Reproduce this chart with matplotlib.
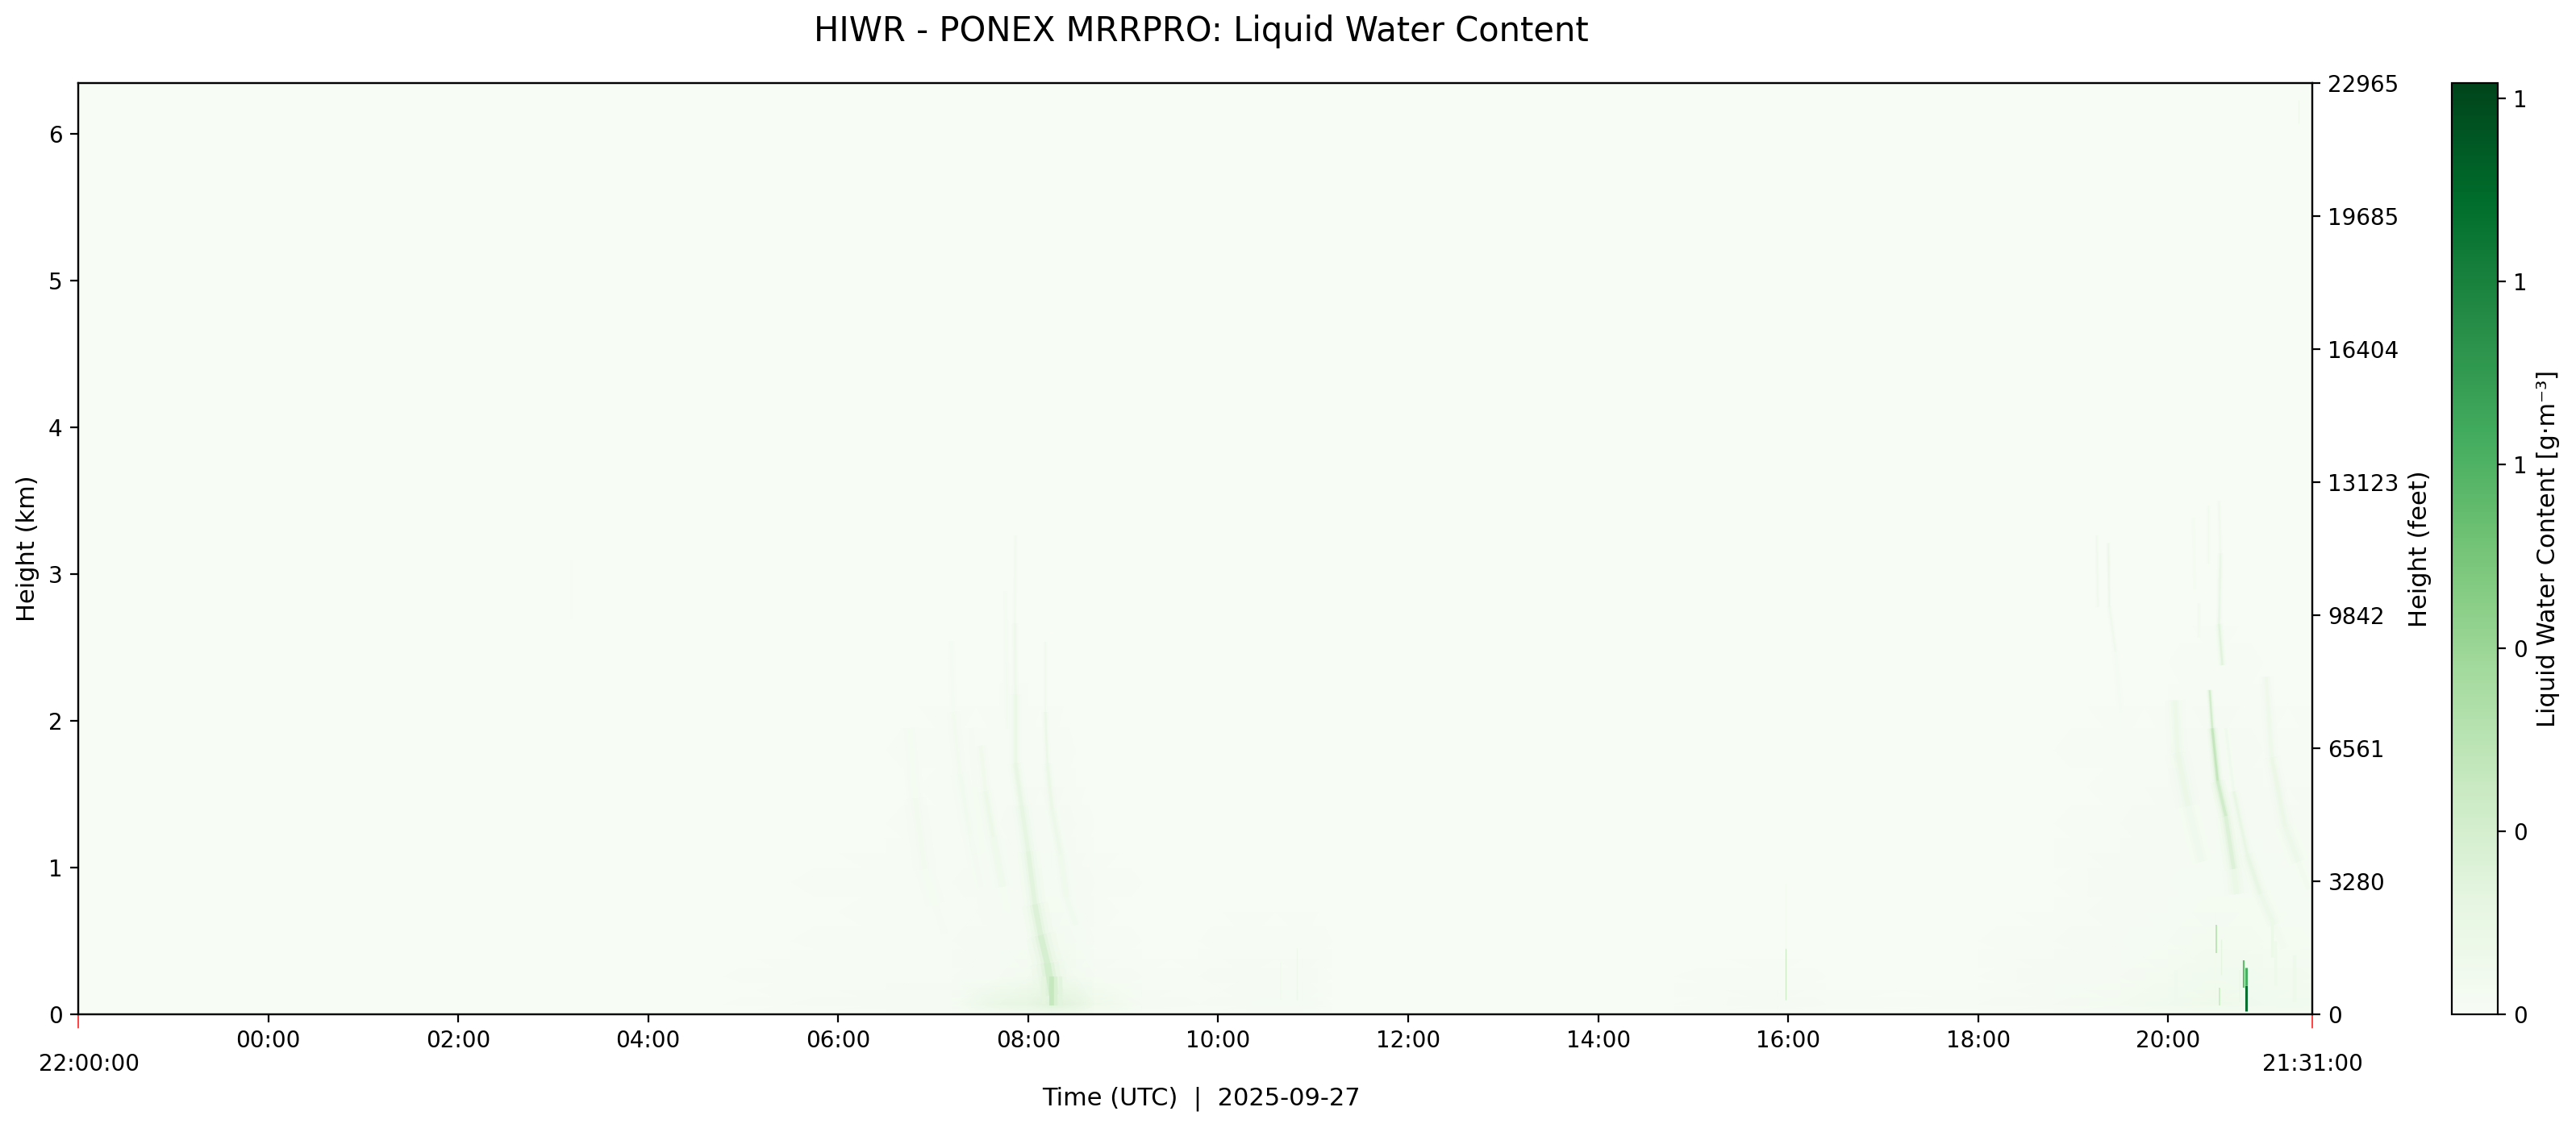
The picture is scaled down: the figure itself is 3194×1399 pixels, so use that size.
import numpy as np
import matplotlib
matplotlib.use("Agg")
import matplotlib.pyplot as plt
from matplotlib.collections import LineCollection
from matplotlib.colors import Normalize

W, H, DPI = 3194, 1399, 200

# Time axis: hours after 22:00 on the previous day
t_start, t_end = 0.0, 23.5167
hour_ticks = [2, 4, 6, 8, 10, 12, 14, 16, 18, 20, 22]
hour_labels = ["00:00", "02:00", "04:00", "06:00", "08:00", "10:00",
               "12:00", "14:00", "16:00", "18:00", "20:00"]
height_top_km = 6.35
km_ticks = [0, 1, 2, 3, 4, 5, 6]
feet_labels = ["0", "3280", "6561", "9842", "13123", "16404", "19685", "22965"]
lwc_max = 1.017
cbar_ticks = [0, 0.2, 0.4, 0.6, 0.8, 1.0]

# Background wash (g/m3)
wash_hours = [0, 6.8, 7.5, 8.5, 9.2, 9.7, 10.0, 10.25, 10.5, 10.7, 11.2, 11.8, 12.3, 12.9, 13.2, 16.8, 17.9, 18.4, 20, 20.8, 21.5, 22, 22.5, 23, 23.5167]
wash_km = [0, 0.07, 0.26, 0.5, 0.9, 1.3, 1.8, 2.4, 2.9, 6.35]
wash_lwc = [
 [0, 0, .004, .008, .010, .025, .035, .050, .040, .016, .008, .006, .008, .010, 0, 0, .008, .003, .003, .008, .014, .022, .026, .026, .022],
 [0, 0, .008, .012, .018, .095, .110, .150, .120, .060, .016, .010, .016, .020, 0, 0, .012, .005, .005, .018, .028, .040, .060, .045, .040],
 [0, 0, .005, .008, .010, .018, .028, .060, .030, .016, .006, .005, .012, .014, 0, 0, .008, .003, .003, .012, .018, .028, .045, .035, .030],
 [0, 0, .003, .005, .008, .012, .016, .030, .020, .008, .002, .002, .006, .006, 0, 0, .003, 0, 0, .005, .012, .022, .030, .025, .022],
 [0, 0, .002, .004, .010, .012, .014, .020, .016, .004, 0, 0, 0, 0, 0, 0, 0, 0, 0, .003, .012, .018, .020, .020, .018],
 [0, 0, 0, .002, .008, .011, .014, .014, .010, .002, 0, 0, 0, 0, 0, 0, 0, 0, 0, .002, .010, .014, .018, .018, .012],
 [0, 0, 0, 0, .004, .008, .009, .007, .003, 0, 0, 0, 0, 0, 0, 0, 0, 0, 0, 0, .004, .008, .012, .010, .004],
 [0, 0, 0, 0, .001, .002, .003, .002, 0, 0, 0, 0, 0, 0, 0, 0, 0, 0, 0, 0, .001, .003, .005, .003, 0],
 [0] * 25,
 [0] * 25,
]

# Fall streaks: hours after 22:00, height in km, LWC
morning_a_h = [9.866, 9.858, 9.866, 9.866, 9.93, 10.00, 10.07, 10.13, 10.20, 10.254]
morning_a_km = [3.26, 2.66, 2.18, 1.71, 1.42, 1.11, 0.75, 0.54, 0.35, 0.13]
morning_a_v = [.03, .06, .08, .11, .12, .13, .17, .20, .22, .24]
morning_b_h = [10.18, 10.18, 10.20, 10.25, 10.34, 10.40, 10.50, 10.56]
morning_b_km = [2.54, 2.06, 1.71, 1.40, 1.09, 0.80, 0.61, 0.50]
morning_b_v = [.03, .07, .11, .08, .07, .05, .03, .01]
morning_c_h = [9.50, 9.55, 9.63, 9.73, 9.78]
morning_c_km = [1.83, 1.52, 1.21, 0.87, 0.70]
morning_c_v = [.03, .08, .08, .04, .01]
morning_d_h = [9.19, 9.21, 9.28, 9.39, 9.50, 9.58]
morning_d_km = [2.54, 2.06, 1.64, 1.23, 0.87, 0.62]
morning_d_v = [.01, .03, .04, .04, .025, .008]
morning_e_h = [8.75, 8.81, 8.91, 9.02, 9.12]
morning_e_km = [1.95, 1.47, 0.99, 0.75, 0.55]
morning_e_v = [.015, .035, .035, .02, .005]
morning_f_h = [9.76, 9.77, 9.78]
morning_f_km = [2.88, 2.40, 1.95]
morning_f_v = [.02, .03, .03]
morning_g_h = [9.40, 9.44, 9.52, 9.60]
morning_g_km = [1.95, 1.55, 1.10, 0.80]
morning_g_v = [.012, .025, .025, .008]
evening_f_h = [22.535, 22.55, 22.535, 22.57]
evening_f_km = [3.50, 3.14, 2.66, 2.38]
evening_f_v = [.03, .07, .14, .18]
evening_g_h = [22.436, 22.464, 22.52, 22.606, 22.69, 22.72]
evening_g_km = [2.21, 1.95, 1.59, 1.35, 0.99, 0.82]
evening_g_v = [.18, .32, .28, .20, .16, .03]
evening_h_h = [22.07, 22.10, 22.21, 22.35, 22.45]
evening_h_km = [2.14, 1.78, 1.42, 1.04, 0.80]
evening_h_v = [.05, .11, .07, .03, .008]
evening_i_h = [22.606, 22.69, 22.83, 22.97, 23.115, 23.22]
evening_i_km = [1.95, 1.52, 1.09, 0.82, 0.61, 0.45]
evening_i_v = [.03, .07, .14, .09, .06, .01]
evening_j_h = [23.03, 23.09, 23.23, 23.37, 23.48]
evening_j_km = [2.30, 1.75, 1.28, 1.04, 0.85]
evening_j_v = [.05, .08, .10, .05, .015]
evening_k_h = [21.247, 21.26]
evening_k_km = [3.26, 2.78]
evening_k_v = [.06, .04]
evening_l_h = [21.37, 21.38, 21.445, 21.50]
evening_l_km = [3.21, 2.78, 2.47, 2.06]
evening_l_v = [.09, .08, .03, .012]
evening_m_h = [22.42, 22.42]
evening_m_km = [3.47, 3.07]
evening_m_v = [.04, .04]
evening_n_h = [22.266, 22.28]
evening_n_km = [3.38, 2.90]
evening_n_v = [.025, .025]
evening_o_h = [22.32, 22.32]
evening_o_km = [2.80, 2.57]
evening_o_v = [.04, .03]

# (hours, km, LWC, width at top, width at bottom) - widths in points
streaks = [
    (morning_e_h, morning_e_km, morning_e_v, 2.5, 5.0),
    (morning_d_h, morning_d_km, morning_d_v, 1.0, 4.5),
    (morning_g_h, morning_g_km, morning_g_v, 2.0, 4.5),
    (morning_c_h, morning_c_km, morning_c_v, 1.8, 3.5),
    (morning_f_h, morning_f_km, morning_f_v, 0.7, 1.0),
    (morning_a_h, morning_a_km, morning_a_v, 0.6, 5.0),
    (morning_b_h, morning_b_km, morning_b_v, 0.6, 3.5),
    (evening_h_h, evening_h_km, evening_h_v, 3.0, 5.0),
    (evening_j_h, evening_j_km, evening_j_v, 2.0, 3.5),
    (evening_i_h, evening_i_km, evening_i_v, 1.2, 3.5),
    (evening_g_h, evening_g_km, evening_g_v, 1.0, 3.5),
    (evening_f_h, evening_f_km, evening_f_v, 0.6, 1.2),
    (evening_k_h, evening_k_km, evening_k_v, 0.6, 0.6),
    (evening_l_h, evening_l_km, evening_l_v, 0.6, 1.0),
    (evening_m_h, evening_m_km, evening_m_v, 0.5, 0.5),
    (evening_n_h, evening_n_km, evening_n_v, 0.5, 0.5),
    (evening_o_h, evening_o_km, evening_o_v, 0.6, 0.6),
]

# Short vertical shafts: hour, bottom km, top km, LWC, line width in points
shaft_h = [10.16, 10.25, 10.29, 10.34, 12.83, 12.66, 17.97, 17.97, 22.51, 22.555, 22.543, 22.795, 22.823, 22.823, 23.09, 23.13, 22.08, 22.75, 23.33, 5.19, 23.37]
shaft_lo = [0.07, 0.06, 0.06, 0.06, 0.10, 0.10, 0.10, 0.45, 0.42, 0.27, 0.06, 0.18, 0.02, 0.20, 0.39, 0.20, 0.08, 0.08, 0.08, 2.70, 6.07]
shaft_hi = [0.26, 0.26, 0.26, 0.26, 0.45, 0.35, 0.45, 0.89, 0.61, 0.51, 0.18, 0.37, 0.20, 0.32, 0.66, 0.50, 0.30, 0.30, 0.40, 3.10, 6.23]
shaft_v = [.13, .26, .18, .14, .07, .04, .24, .03, .32, .12, .22, .55, .88, .62, .08, .06, .05, .07, .06, .008, .06]
shaft_w = [2.0, 2.2, 1.6, 1.6, 0.5, 0.7, 0.4, 0.4, 0.6, 0.5, 0.7, 0.8, 1.1, 1.1, 1.2, 1.2, 1.5, 0.7, 1.5, 0.4, 0.5]

fig = plt.figure(figsize=(W / DPI, H / DPI), dpi=DPI)
ax = fig.add_axes([97 / W, 1 - 1258 / H, 2770 / W, 1155.5 / H])
cax = fig.add_axes([3040 / W, 1 - 1258 / H, 57 / W, 1155.5 / H])
cmap = plt.get_cmap("Greens")
norm = Normalize(0, lwc_max)

ax.pcolormesh(wash_hours, wash_km, np.array(wash_lwc), cmap=cmap, norm=norm,
              shading="gouraud", rasterized=True)

for hs, kms, vals, w_top, w_bottom in streaks:
    pts = np.column_stack([hs, kms])
    segs = np.stack([pts[:-1], pts[1:]], axis=1)
    seg_vals = (np.array(vals[:-1]) + np.array(vals[1:])) / 2
    seg_w = np.linspace(w_top, w_bottom, len(segs))
    for width_k, value_k, alpha in [(3.0, 0.35, 0.3), (2.0, 0.55, 0.35), (1.2, 0.8, 0.45), (0.6, 1.0, 0.7)]:
        lc = LineCollection(segs, cmap=cmap, norm=norm, linewidths=seg_w * width_k,
                            capstyle="butt", joinstyle="round", alpha=alpha)
        lc.set_array(seg_vals * value_k)
        ax.add_collection(lc)

ax.vlines(shaft_h, shaft_lo, shaft_hi, colors=cmap(norm(shaft_v)), linewidths=shaft_w)

ax.set_xlim(t_start, t_end)
ax.set_ylim(0, height_top_km)
ax.set_xticks(hour_ticks)
ax.set_xticklabels(hour_labels, fontsize=10)
ax.set_yticks(km_ticks)
ax.tick_params(axis="y", labelsize=10)
ax.set_ylabel("Height (km)", fontsize=11)
ax.yaxis.set_label_coords((49 - 97) / 2770, 0.5)
ax.set_xlabel("Time (UTC)  |  2025-09-27", fontsize=11, va="center")
ax.xaxis.set_label_coords((1489 - 97) / 2770, -(1363 - 1258) / 1155.5)

# Red end ticks with their full-time labels
for tval, lab, dx in [(t_start, "22:00:00", 5.0), (t_end, "21:31:00", 0.0)]:
    ax.annotate("", xy=(tval, 0), xycoords=("data", "axes fraction"),
                xytext=(0, -6), textcoords="offset points",
                arrowprops=dict(arrowstyle="-", color="#ff2020", lw=0.6, shrinkA=0, shrinkB=0),
                annotation_clip=False)
    ax.annotate(lab, xy=(tval, 0), xycoords=("data", "axes fraction"),
                xytext=(dx, -22.3), textcoords="offset points",
                ha="center", va="center", fontsize=10, annotation_clip=False)

# Right axis: labels spread evenly over the axis height
ax2 = ax.twinx()
ax2.set_ylim(0, 7)
ax2.set_yticks(range(8))
ax2.set_yticklabels(feet_labels, fontsize=10)
ax2.set_ylabel("Height (feet)", fontsize=11)
ax2.yaxis.set_label_coords((2986 - 97) / 2770, 0.5)

sm = plt.cm.ScalarMappable(norm=norm, cmap=cmap)
cb = fig.colorbar(sm, cax=cax)
cb.set_ticks(cbar_ticks)
cb.set_ticklabels(["%.0f" % v for v in cbar_ticks])
cb.ax.tick_params(labelsize=10)
cb.set_label("Liquid Water Content [g·m⁻³]", fontsize=11)
cb.ax.yaxis.set_label_coords((3145 - 3040) / 57, 0.5)

fig.text(1489 / W, 1 - 38.5 / H, "HIWR - PONEX MRRPRO: Liquid Water Content",
         ha="center", va="center", fontsize=15)
fig.savefig("out.png", dpi=DPI)
